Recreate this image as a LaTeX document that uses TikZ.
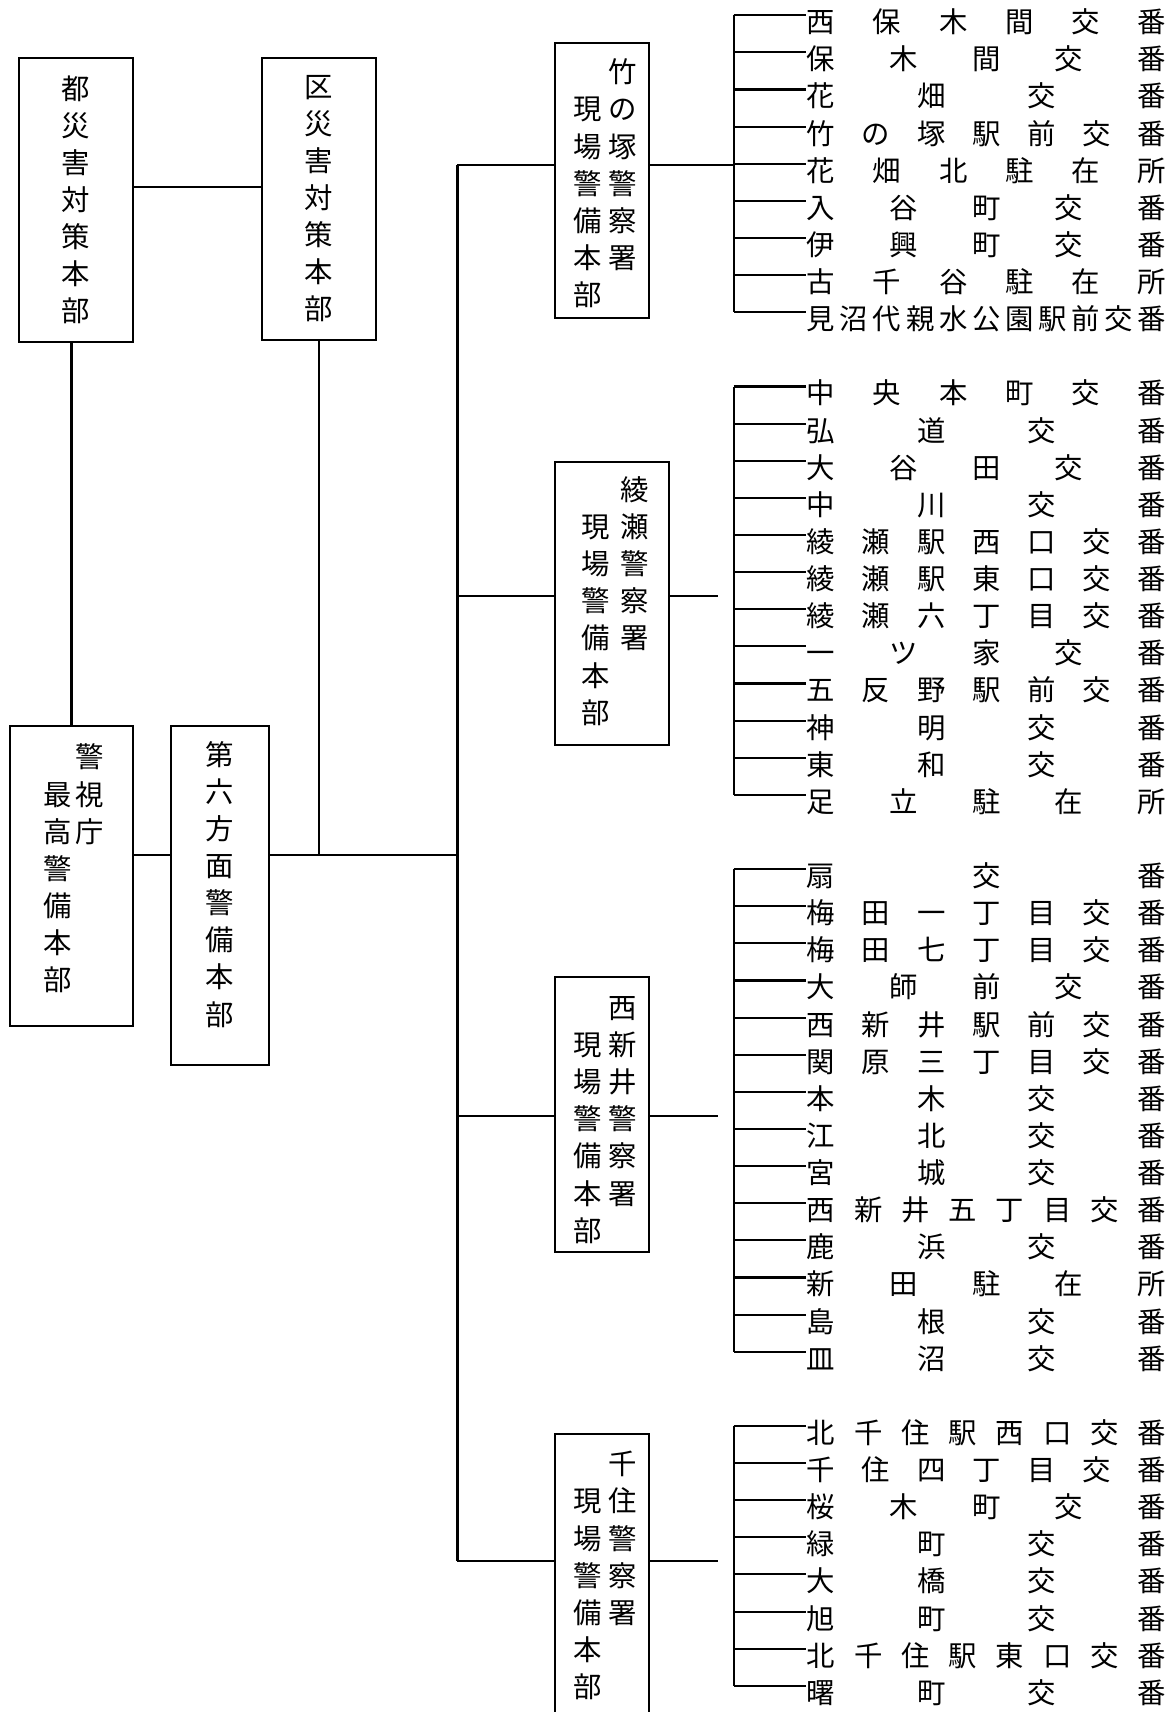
\documentclass[tikz,border=0pt]{standalone}
\usepackage{fontspec}
\setmainfont{Noto Sans CJK JP}
\usetikzlibrary{positioning}
\newcommand{\spread}[1]{\makebox[329pt][s]{\ignorespaces#1\unskip}}
\newcommand{\vtext}[2]{\raisebox{#1}[\height][\depth]{#2}}

\begin{document}
\begin{tikzpicture}[x=1pt,y=-1pt,line width=1.9pt,
  box/.style={draw,inner sep=0pt,align=center,font=\fontsize{26}{34}\selectfont},
  item/.style={anchor=west,inner sep=0pt,text height=32pt,text depth=0pt,font=\fontsize{26}{34}\selectfont}]
\useasboundingbox (0,0) rectangle (1076,1568);
\clip (0,0) rectangle (1076,1568);

\node[box,minimum width=105,minimum height=260] (to) at (69.5,183) {都\\災\\害\\対\\策\\本\\部};
\node[box,minimum width=104,minimum height=258] (ku) at (292,182) {区\\災\\害\\対\\策\\本\\部};
\node[box,minimum width=113,minimum height=275] (kei) at (65.5,802.5) {\vtext{4pt}{\begin{tabular}{@{\hspace{4pt}}c@{\hspace{3pt}}c@{}}
 &警\\最&視\\高&庁\\警&\\備&\\本&\\部&\end{tabular}}};
\node[box,minimum width=89,minimum height=310] (dai) at (201.5,820) {\vtext{7pt}{\begin{tabular}{@{}c@{}}
 第\\六\\方\\面\\警\\備\\本\\部\end{tabular}}};

\node[box,minimum width=86,minimum height=252] (tk) at (551,165) {\vtext{-6pt}{\begin{tabular}{@{\hspace{6pt}}c@{\hspace{6pt}}c@{}}
 &竹\\現&の\\場&塚\\警&警\\備&察\\本&署\\部&\end{tabular}}};
\node[box,minimum width=105,minimum height=259] (ay) at (560.5,552.5) {\vtext{-1pt}{\begin{tabular}{@{\hspace{6pt}}c@{\hspace{9pt}}c@{}}
 &綾\\現&瀬\\場&警\\警&察\\備&署\\本&\\部&\end{tabular}}};
\node[box,minimum width=86,minimum height=252] (ni) at (551,1021) {\vtext{-7pt}{\begin{tabular}{@{\hspace{6pt}}c@{\hspace{6pt}}c@{}}
 &西\\現&新\\場&井\\警&警\\備&察\\本&署\\部&\end{tabular}}};
\node[box,minimum width=86,minimum height=258] (sj) at (551,1442) {\vtext{-4pt}{\begin{tabular}{@{\hspace{6pt}}c@{\hspace{6pt}}c@{}}
 &千\\現&住\\場&警\\警&察\\備&署\\本&\\部&\end{tabular}}};

\coordinate (j) at (419,783);
\coordinate (b1) at (419,151);
\coordinate (b2) at (419,546);
\coordinate (b3) at (419,1022);
\coordinate (b4) at (419,1430);

\draw ([yshift=12pt]to.east) -- ([yshift=12pt]to.east -| ku.west);
\draw (kei.north) -- (kei.north |- to.south);
\draw (ku.south) -- (ku.south |- j);
\draw (kei.east |- j) -- (dai.west |- j);
\draw (dai.east |- j) -- (j);
\draw (b1) -- (b4);
\draw (b1) -- (b1 -| tk.west);
\draw (b2) -- (b2 -| ay.west);
\draw (b3) -- (b3 -| ni.west);
\draw (b4) -- (b4 -| sj.west);

\coordinate (tkt) at (672,14);
\coordinate (tkb) at (672,286);
\draw (tkt) -- (tkb);
\draw (b1 -| tk.east) -- (b1 -| tkt);
\foreach \t [count=\i from 0] in {西 保 木 間 交 番,保 木 間 交 番,花 畑 交 番,竹 の 塚 駅 前 交 番,花 畑 北 駐 在 所,
  入 谷 町 交 番,伊 興 町 交 番,古 千 谷 駐 在 所,見 沼 代 親 水 公 園 駅 前 交 番}{
  \node[item] (tka\i) at (738,{14+34*\i}) {\spread{\t}};
  \draw (672,{14+34*\i}) -- (tka\i.west);
}

\coordinate (ayt) at (672,354);
\coordinate (ayb) at (672,728);
\coordinate (ayc) at (658,546);
\draw (ayt) -- (ayb);
\draw (b2 -| ay.east) -- (ayc);
\foreach \t [count=\i from 0] in {中 央 本 町 交 番,弘 道 交 番,大 谷 田 交 番,中 川 交 番,綾 瀬 駅 西 口 交 番,
  綾 瀬 駅 東 口 交 番,綾 瀬 六 丁 目 交 番,一 ツ 家 交 番,五 反 野 駅 前 交 番,神 明 交 番,東 和 交 番,足 立 駐 在 所}{
  \node[item] (aya\i) at (738,{354+34*\i}) {\spread{\t}};
  \draw (672,{354+34*\i}) -- (aya\i.west);
}

\coordinate (nit) at (672,796);
\coordinate (nib) at (672,1238);
\coordinate (nic) at (658,1022);
\draw (nit) -- (nib);
\draw (b3 -| ni.east) -- (nic);
\foreach \t [count=\i from 0] in {扇 交 番,梅 田 一 丁 目 交 番,梅 田 七 丁 目 交 番,大 師 前 交 番,西 新 井 駅 前 交 番,
  関 原 三 丁 目 交 番,本 木 交 番,江 北 交 番,宮 城 交 番,西 新 井 五 丁 目 交 番,鹿 浜 交 番,新 田 駐 在 所,
  島 根 交 番,皿 沼 交 番}{
  \node[item] (nia\i) at (738,{796+34*\i}) {\spread{\t}};
  \draw (672,{796+34*\i}) -- (nia\i.west);
}

\coordinate (sjt) at (672,1306);
\coordinate (sjb) at (672,1544);
\coordinate (sjc) at (658,1430);
\draw (sjt) -- (sjb);
\draw (b4 -| sj.east) -- (sjc);
\foreach \t [count=\i from 0] in {北 千 住 駅 西 口 交 番,千 住 四 丁 目 交 番,桜 木 町 交 番,緑 町 交 番,大 橋 交 番,
  旭 町 交 番,北 千 住 駅 東 口 交 番,曙 町 交 番}{
  \node[item] (sja\i) at (738,{1306+34*\i}) {\spread{\t}};
  \draw (672,{1306+34*\i}) -- (sja\i.west);
}
\end{tikzpicture}
\end{document}
